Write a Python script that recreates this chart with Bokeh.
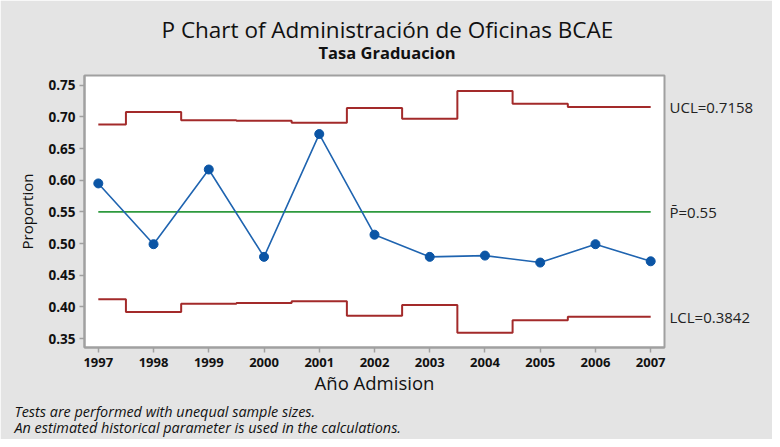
from bokeh.plotting import figure
from bokeh.models import (FixedTicker, Range1d, Title, LinearAxis, PrintfTickFormatter)
from bokeh.embed import file_html
from bokeh.resources import INLINE

years = [1997, 1998, 1999, 2000, 2001, 2002, 2003, 2004, 2005, 2006, 2007]
proportion = [0.595, 0.499, 0.617, 0.479, 0.673, 0.514, 0.479, 0.481, 0.470, 0.499, 0.472]
ucl = [0.688, 0.708, 0.695, 0.694, 0.691, 0.714, 0.697, 0.741, 0.721, 0.7158, 0.7158]
lcl = [0.412, 0.392, 0.405, 0.406, 0.409, 0.386, 0.403, 0.359, 0.379, 0.3842, 0.3842]
center = 0.55
y_ticks = [0.35, 0.40, 0.45, 0.50, 0.55, 0.60, 0.65, 0.70, 0.75]
limit_labels = {ucl[-1]: f"UCL={ucl[-1]:.4f}", center: "P\u0304=0.55", lcl[-1]: f"LCL={lcl[-1]:.4f}"}

BG = "#e4e4e4"
FONT = "Open Sans"
TXT = "#111111"

p = figure(frame_width=580, frame_height=272, output_backend="svg", toolbar_location=None,
           x_range=Range1d(1996.75, 2007.25), y_range=Range1d(0.3358, 0.7655),
           min_border_left=84, min_border_right=108, min_border_top=75, min_border_bottom=92)

p.background_fill_color = "white"
p.border_fill_color = BG
p.outline_line_color = "#a0a0a0"
p.outline_line_width = 2
p.grid.visible = False

# titles
p.title.text = "P Chart of Administración de Oficinas BCAE"
p.title.align = "left"
p.title.offset = 77
p.title.text_font = FONT
p.title.text_font_size = "22.5px"
p.title.text_font_style = "normal"
p.title.text_color = TXT
p.title.standoff = -34
sub = Title(text="Tasa Graduacion", align="left", offset=234, text_font=FONT,
            text_font_size="16.5px", text_font_style="bold", text_color=TXT, standoff=23)
p.add_layout(sub, "above")

# data
p.step(years, ucl, mode="center", line_color="#a32a2a", line_width=2)
p.step(years, lcl, mode="center", line_color="#a32a2a", line_width=2)
p.line([years[0], years[-1]], [center, center], line_color="#2e9a3e", line_width=1.6)
p.line(years, proportion, line_color="#1f64b0", line_width=1.6)
p.scatter(years, proportion, size=9, fill_color="#0b55a5", line_color="#0b55a5")

# axes
for ax in (p.xaxis[0], p.yaxis[0]):
    ax.axis_line_color = "#a0a0a0"
    ax.axis_line_width = 2
    ax.major_tick_line_color = "#a0a0a0"
    ax.major_tick_line_width = 1.5
    ax.major_tick_out = 5
    ax.major_tick_in = 0
    ax.minor_tick_line_color = None
    ax.major_label_text_font = FONT
    ax.major_label_text_font_style = "bold"
    ax.major_label_text_color = TXT
    ax.axis_label_text_font = FONT
    ax.axis_label_text_font_style = "normal"
    ax.axis_label_text_color = TXT

p.xaxis.ticker = FixedTicker(ticks=years)
p.xaxis.major_label_text_font_size = "13px"
p.xaxis.major_label_standoff = 5
p.xaxis.axis_label = "Año Admision"
p.xaxis.axis_label_standoff = 0
p.xaxis.axis_label_text_font_size = "18.5px"
p.yaxis.ticker = FixedTicker(ticks=y_ticks)
p.yaxis.formatter = PrintfTickFormatter(format="%.2f")
p.yaxis.major_label_text_font_size = "13.5px"
p.yaxis.major_label_standoff = 4
p.yaxis.axis_label = "Proportion"
p.yaxis.axis_label_standoff = 8
p.yaxis.axis_label_text_font_size = "15px"

# limit labels on a right-side axis
rax = LinearAxis(ticker=FixedTicker(ticks=list(limit_labels.keys())),
                 major_label_overrides=limit_labels,
                 axis_line_color=None, major_tick_line_color=None, minor_tick_line_color=None,
                 major_tick_out=0, major_tick_in=0,
                 major_label_standoff=5, major_label_text_font=FONT,
                 major_label_text_font_size="15px", major_label_text_color="#222222")
p.add_layout(rax, "right")

# footnotes
foot = Title(text="Tests are performed with unequal sample sizes.\n"
                  "An estimated historical parameter is used in the calculations.",
             align="left", offset=-70, text_font=FONT, text_font_size="14.4px",
             text_font_style="italic", text_color=TXT, text_line_height=0.82, standoff=5)
p.add_layout(foot, "below")

open("out.html", "w").write(file_html(p, INLINE))
